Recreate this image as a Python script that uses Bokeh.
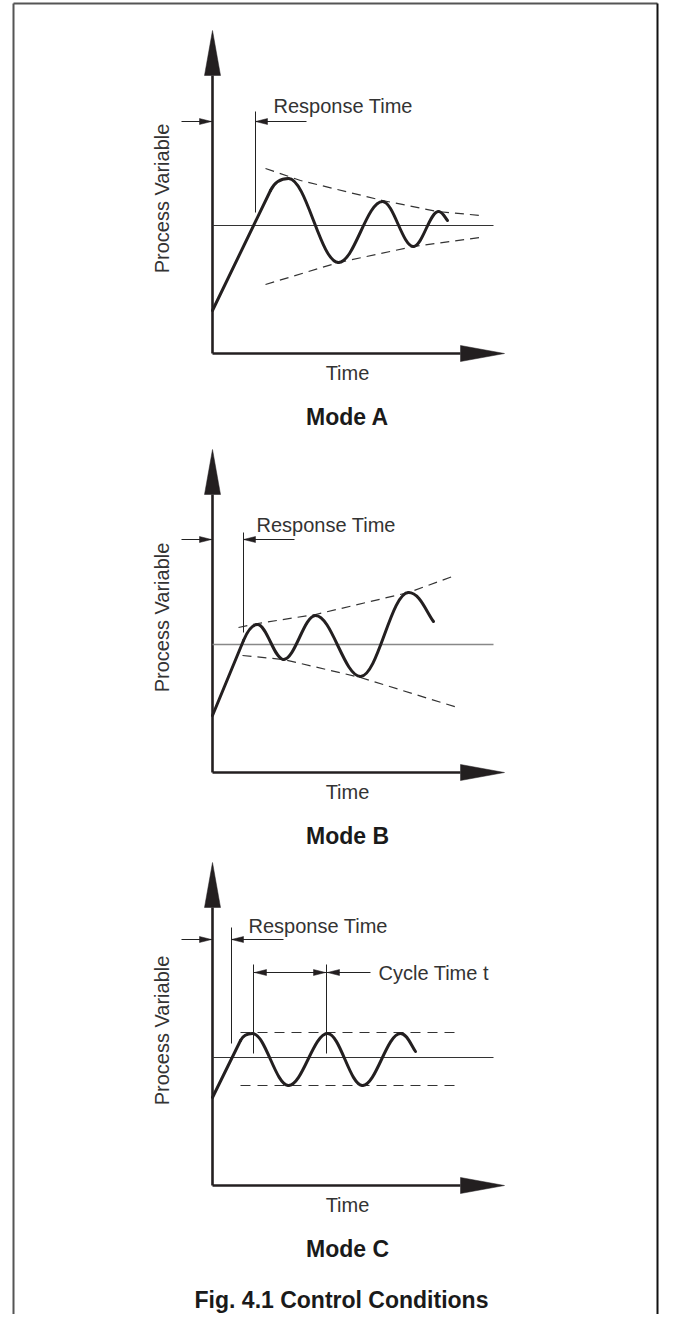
from bokeh.plotting import figure
from bokeh.models import Range1d
from bokeh.embed import file_html
from bokeh.resources import INLINE
from bokeh.core.properties import value

# ---------------- data ----------------
modes = ["Mode A", "Mode B", "Mode C"]
axis_x_label = "Time"
axis_y_label = "Process Variable"
response_label = "Response Time"
cycle_label = "Cycle Time t"
caption = "Fig. 4.1 Control Conditions"

setpoint_v = [128, 128, 128]

# process-variable curves: start, end of ramp, extrema..., end
curve_t = [
    [0, 58, 76, 126, 170, 201, 226, 235],
    [0, 31, 45, 71, 103, 148, 196, 221],
    [0, 28, 40, 76, 115, 150, 188, 203],
]
curve_v = [
    [43, 163, 175, 91, 152, 107, 142, 133],
    [57, 132, 148, 113, 157, 96, 180, 151],
    [88, 145, 152, 100, 152, 100, 152, 134],
]

# dashed envelopes
upper_t = [[53, 88, 170, 225, 268], [26, 45, 103, 196, 240], [28, 243]]
upper_v = [[185, 173, 153, 142, 138], [145, 149, 158, 180, 196], [153, 153]]
lower_t = [[53, 126, 201, 268], [30, 71, 148, 245], [28, 243]]
lower_v = [[69, 91, 107, 116], [117, 113, 95, 65], [100, 100]]

# response-time markers
resp_t = [43, 31, 19]
resp_top = [242, 240, 258]
resp_bot = [141, 140, 142]
resp_arrow_v = [232, 233, 246]
resp_arrow_from = [94, 82, 71]
resp_text_t = [61, 44, 36]
resp_text_v = [248, 248, 260]

# cycle-time marker (Mode C)
cycle_t = [41, 114]
cycle_top, cycle_bot = 221, 132
cycle_arrow_v = 213
cycle_lead_from = 158
cycle_text_t = 166

# ---------------- layout ----------------
W, H = 659, 1314
origin_x = 212
origin_y = [353, 772, 1185]
y_tip, y_base = 323, 278
x_tip, x_base = 292, 248
head_half = 8
setpoint_end = 281

INK = "#231f20"
TXT = "#333333"
FONT = value("Liberation Sans")

p = figure(width=W, height=H, x_range=Range1d(0, W), y_range=Range1d(H, 0),
           output_backend="svg", toolbar_location=None,
           x_axis_location=None, y_axis_location=None, min_border=0)
p.grid.visible = False
p.outline_line_color = None
p.background_fill_color = "white"
p.border_fill_color = "white"


def tri(tx, ty, dx, dy, length, half):
    # triangle with tip (tx,ty), pointing along (dx,dy) (unit)
    bx, by = tx - dx * length, ty - dy * length
    nx, ny = -dy, dx
    return [tx, bx + nx * half, bx - nx * half], [ty, by + ny * half, by - ny * half]


heads_x, heads_y = [], []

for i in range(3):
    ox, oy = origin_x, origin_y[i]
    X = lambda t: ox + t
    Y = lambda v: oy - v

    # axes
    p.line([X(0), X(0)], [Y(0), Y(y_base)], line_color=INK, line_width=2.6)
    p.line([X(0), X(x_base)], [Y(0), Y(0)], line_color=INK, line_width=2.6)
    hx, hy = tri(X(0), Y(y_tip), 0, -1, y_tip - y_base, head_half)
    heads_x.append(hx); heads_y.append(hy)
    hx, hy = tri(X(x_tip), Y(0), 1, 0, x_tip - x_base, head_half)
    heads_x.append(hx); heads_y.append(hy)

    # set point
    sp_col = "#888888" if i == 1 else "#333333"
    p.line([X(0), X(setpoint_end)], [Y(setpoint_v[i])] * 2, line_color=sp_col,
           line_width=1.6 if i == 1 else 1.2)

    # envelopes
    dash = "9 6" if i < 2 else "10 7"
    p.line([X(t) for t in upper_t[i]], [Y(v) for v in upper_v[i]],
           line_color="#333333", line_width=1.2, line_dash=dash)
    p.line([X(t) for t in lower_t[i]], [Y(v) for v in lower_v[i]],
           line_color="#333333", line_width=1.2, line_dash=dash)

    # curve: ramp line, then bezier segments
    ct, cv = curve_t[i], curve_v[i]
    p.line([X(ct[0]), X(ct[1])], [Y(cv[0]), Y(cv[1])], line_color=INK, line_width=3,
           line_cap="round")
    slope = (cv[1] - cv[0]) / (ct[1] - ct[0])
    bx0, by0, bx1, by1, bcx0, bcy0, bcx1, bcy1 = [], [], [], [], [], [], [], []
    # ramp -> first peak
    a = 0.85 * (cv[2] - cv[1]) / slope
    bx0.append(X(ct[1])); by0.append(Y(cv[1]))
    bcx0.append(X(ct[1] + a)); bcy0.append(Y(cv[1] + a * slope))
    bcx1.append(X(ct[2] - 0.25 * (ct[2] - ct[1]))); bcy1.append(Y(cv[2]))
    bx1.append(X(ct[2])); by1.append(Y(cv[2]))
    # extrema -> extrema
    for k in range(2, len(ct) - 2):
        dx = ct[k + 1] - ct[k]
        bx0.append(X(ct[k])); by0.append(Y(cv[k]))
        bcx0.append(X(ct[k] + 0.36 * dx)); bcy0.append(Y(cv[k]))
        bcx1.append(X(ct[k + 1] - 0.36 * dx)); bcy1.append(Y(cv[k + 1]))
        bx1.append(X(ct[k + 1])); by1.append(Y(cv[k + 1]))
    # last extremum -> end
    k = len(ct) - 2
    dx = ct[k + 1] - ct[k]
    bx0.append(X(ct[k])); by0.append(Y(cv[k]))
    bcx0.append(X(ct[k] + 0.45 * dx)); bcy0.append(Y(cv[k]))
    bcx1.append(X(ct[k + 1] - 0.3 * dx)); bcy1.append(Y(cv[k + 1] + 0.35 * (cv[k] - cv[k + 1])))
    bx1.append(X(ct[k + 1])); by1.append(Y(cv[k + 1]))
    p.bezier(x0=bx0, y0=by0, x1=bx1, y1=by1, cx0=bcx0, cy0=bcy0, cx1=bcx1, cy1=bcy1,
             line_color=INK, line_width=3, line_cap="round")

    # response-time marker
    p.line([X(resp_t[i])] * 2, [Y(resp_top[i]), Y(resp_bot[i])], line_color="#222222", line_width=1)
    p.line([X(resp_arrow_from[i]), X(resp_t[i])], [Y(resp_arrow_v[i])] * 2,
           line_color="#222222", line_width=1)
    hx, hy = tri(X(resp_t[i]), Y(resp_arrow_v[i]), -1, 0, 12, 3)
    heads_x.append(hx); heads_y.append(hy)
    p.line([X(-31), X(0)], [Y(resp_arrow_v[i])] * 2, line_color="#222222", line_width=1)
    hx, hy = tri(X(-1), Y(resp_arrow_v[i]), 1, 0, 12, 3)
    heads_x.append(hx); heads_y.append(hy)
    p.text(x=[X(resp_text_t[i])], y=[Y(resp_text_v[i])], text=[response_label],
           text_font=FONT, text_font_size="20px", text_color=TXT,
           text_baseline="middle", text_align="left")

    # labels
    p.text(x=[X(-51)], y=[Y(155)], text=[axis_y_label], angle=1.5707963,
           text_font=FONT, text_font_size="20px", text_color=TXT,
           text_baseline="middle", text_align="center")
    p.text(x=[X(135)], y=[Y(-19)], text=[axis_x_label],
           text_font=FONT, text_font_size="20px", text_color=TXT,
           text_baseline="middle", text_align="center")
    p.text(x=[X(135)], y=[Y(-63)], text=[modes[i]],
           text_font=FONT, text_font_size="23px", text_font_style="bold", text_color="#1a1a1a",
           text_baseline="middle", text_align="center")

    if i == 2:
        for ctm in cycle_t:
            p.line([X(ctm)] * 2, [Y(cycle_top), Y(cycle_bot)], line_color="#222222", line_width=1)
        p.line([X(cycle_t[0]), X(cycle_t[1])], [Y(cycle_arrow_v)] * 2, line_color="#222222", line_width=1)
        p.line([X(cycle_lead_from), X(cycle_t[1])], [Y(cycle_arrow_v)] * 2, line_color="#222222", line_width=1)
        for (tt, d) in [(cycle_t[0] + 1, -1), (cycle_t[1] - 1, 1), (cycle_t[1] + 1, -1)]:
            hx, hy = tri(X(tt), Y(cycle_arrow_v), d, 0, 12, 3)
            heads_x.append(hx); heads_y.append(hy)
        p.text(x=[X(cycle_text_t)], y=[Y(cycle_arrow_v)], text=[cycle_label],
               text_font=FONT, text_font_size="20px", text_color=TXT,
               text_baseline="middle", text_align="left")

p.patches(heads_x, heads_y, fill_color=INK, line_color=INK, line_width=0.5)

# caption
p.text(x=[341], y=[1299], text=[caption], text_font=FONT, text_font_size="23px",
       text_font_style="bold", text_color="#1a1a1a", text_baseline="middle", text_align="center")

# frame
p.line([13, 13], [H, 3], line_color="#555555", line_width=2)
p.line([13, W - 2], [3, 3], line_color="#555555", line_width=2)
p.line([W - 2, W - 2], [3, H], line_color="#111111", line_width=2)

open("out.html", "w").write(file_html(p, INLINE))
